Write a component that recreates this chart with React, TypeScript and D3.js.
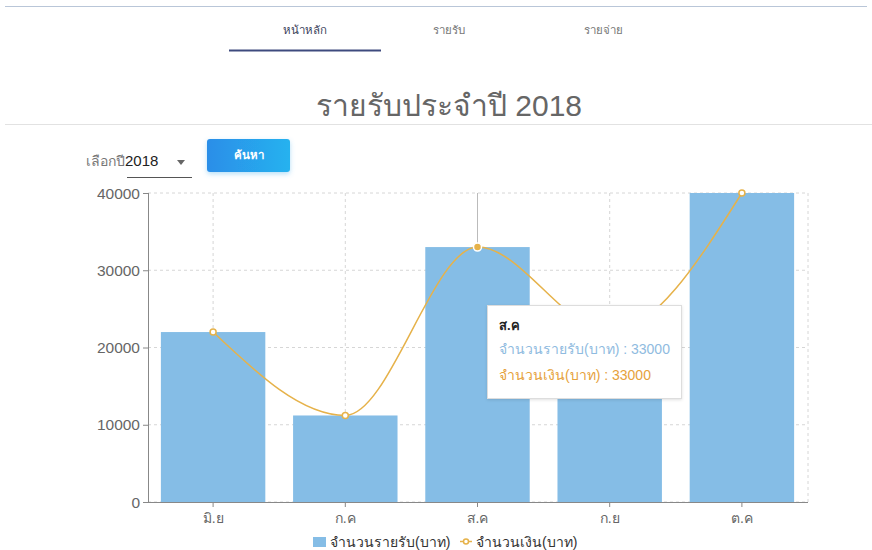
import React from "react";
import * as d3 from "d3";

const months = ["มิ.ย", "ก.ค", "ส.ค", "ก.ย", "ต.ค"];
const incomeValues = [22000, 11200, 33000, 22000, 40000];
const amountValues = [22000, 11200, 33000, 22000, 40000];
const yTicks = [0, 10000, 20000, 30000, 40000];
const navTabs = ["หน้าหลัก", "รายรับ", "รายจ่าย"];
const seriesNames = ["จำนวนรายรับ(บาท)", "จำนวนเงิน(บาท)"];
const hoverIndex = 2;

const W = 872;
const H = 550;
const FONT = "'Liberation Sans', Arial, 'DejaVu Sans', sans-serif";
const BAR = "#85bde6";
const LINE = "#e6b24a";

export default function App() {
  const x = d3
    .scaleBand<string>()
    .domain(months)
    .range([147, 808])
    .paddingInner(0.21)
    .paddingOuter(0.105);
  const y = d3.scaleLinear().domain([0, 40000]).range([502, 193]);
  const cx = (m: string) => (x(m) as number) + x.bandwidth() / 2;
  const line = d3
    .line<number>()
    .x((_, i) => cx(months[i]))
    .y((d) => y(d))
    .curve(d3.curveMonotoneX);
  const tabX = [305, 449, 603];
  const hx = cx(months[hoverIndex]);
  const hy = y(amountValues[hoverIndex]);

  return (
    <div style={{ position: "absolute", left: 0, top: 0, width: W, height: H, background: "#fff" }}>
      <svg width={W} height={H} style={{ display: "block", fontFamily: FONT }}>
        <defs>
          <linearGradient id="btn" x1="0" y1="0" x2="1" y2="0">
            <stop offset="0%" stopColor="#2a8ee8" />
            <stop offset="100%" stopColor="#27b2ef" />
          </linearGradient>
          <filter id="sh" x="-20%" y="-30%" width="140%" height="170%">
            <feDropShadow dx="0" dy="2" stdDeviation="2.5" floodColor="#5ab8f0" floodOpacity="0.45" />
          </filter>
          <filter id="tsh" x="-10%" y="-10%" width="120%" height="130%">
            <feDropShadow dx="0" dy="1" stdDeviation="1.5" floodColor="#000" floodOpacity="0.12" />
          </filter>
        </defs>
        {/* top bar line */}
        <line x1={5} x2={867} y1={6.5} y2={6.5} stroke="#b9c6d8" strokeWidth={1} />
        {/* nav */}
        {navTabs.map((t, i) => (
          <text key={t} x={tabX[i]} y={34} textAnchor="middle" fontSize={11.5} fill={i === 0 ? "#3c3f5c" : "#777"}>
            {t}
          </text>
        ))}
        <rect x={229} y={49.5} width={152} height={2} fill="#3e4a7e" />
        {/* title */}
        <text x={449} y={116} textAnchor="middle" fontSize={30} fill="#666">
          รายรับประจำปี 2018
        </text>
        <line x1={5} x2={872} y1={124.5} y2={124.5} stroke="#e2e2e2" />
        {/* select */}
        <text x={86} y={166} fontSize={14} fill="#777">
          เลือกปี<tspan fill="#222" fontSize={15}>2018</tspan>
        </text>
        <path d="M177,160 L185,160 L181,165 Z" fill="#666" />
        <line x1={127} x2={192} y1={177.5} y2={177.5} stroke="#555" />
        {/* button */}
        <rect x={207} y={139} width={83} height={33} rx={3} fill="url(#btn)" filter="url(#sh)" />
        <text x={248.5} y={159} textAnchor="middle" fontSize={11.5} fill="#fff" fontWeight="bold">
          ค้นหา
        </text>

        {/* grid */}
        {yTicks.map((t) => (
          <line key={"g" + t} x1={148} x2={808} y1={y(t)} y2={y(t)} stroke="#d6d6d6" strokeDasharray="3,3" />
        ))}
        {months.map((m) => (
          <line key={"v" + m} x1={cx(m)} x2={cx(m)} y1={193} y2={502} stroke="#d6d6d6" strokeDasharray="3,3" />
        ))}
        <line x1={808} x2={808} y1={193} y2={502} stroke="#d6d6d6" strokeDasharray="3,3" />

        {/* axis pointer */}
        <line x1={hx} x2={hx} y1={193} y2={hy} stroke="#bbb" strokeWidth={1} />

        {/* bars */}
        {months.map((m, i) => (
          <rect key={"b" + m} x={x(m)} y={y(incomeValues[i])} width={x.bandwidth()} height={502 - y(incomeValues[i])} fill={BAR} />
        ))}

        {/* line */}
        <path d={line(amountValues) || ""} fill="none" stroke={LINE} strokeWidth={1.5} />
        {amountValues.map((v, i) =>
          i === hoverIndex ? (
            <circle key={"p" + i} cx={cx(months[i])} cy={y(v)} r={4} fill={LINE} stroke="#fff" strokeWidth={1.5} />
          ) : (
            <circle key={"p" + i} cx={cx(months[i])} cy={y(v)} r={3} fill="#fff" stroke={LINE} strokeWidth={1.5} />
          )
        )}

        {/* axes */}
        <line x1={148.5} x2={148.5} y1={193} y2={502} stroke="#888" />
        {yTicks.map((t) => (
          <g key={"yt" + t}>
            <line x1={143} x2={148} y1={y(t) + 0.5} y2={y(t) + 0.5} stroke="#888" />
            <text x={140} y={y(t) + 5.5} textAnchor="end" fontSize={15.5} fill="#666">
              {t}
            </text>
          </g>
        ))}
        <line x1={143} x2={808} y1={502.5} y2={502.5} stroke="#888" />
        {months.map((m) => (
          <g key={"xt" + m}>
            <line x1={cx(m)} x2={cx(m)} y1={502} y2={507} stroke="#888" />
            <text x={cx(m)} y={523} textAnchor="middle" fontSize={14} fill="#666">
              {m}
            </text>
          </g>
        ))}

        {/* legend */}
        <rect x={313} y={537} width={13} height={10} fill={BAR} />
        <text x={330} y={546.5} fontSize={14} fill="#333">
          {seriesNames[0]}
        </text>
        <line x1={460} x2={472} y1={541.5} y2={541.5} stroke={LINE} strokeWidth={1.5} />
        <circle cx={466} cy={541.5} r={2.5} fill="#fff" stroke={LINE} strokeWidth={1.5} />
        <text x={476} y={546.5} fontSize={14} fill="#333">
          {seriesNames[1]}
        </text>

        {/* tooltip */}
        <rect x={487.5} y={305.5} width={194} height={93} fill="#fff" stroke="#ddd" filter="url(#tsh)" />
        <text x={499} y={330} fontSize={13} fontWeight="bold" fill="#222">
          {months[hoverIndex]}
        </text>
        <text x={499} y={354} fontSize={14} fill="#8fbbe0">
          {seriesNames[0]} : {incomeValues[hoverIndex]}
        </text>
        <text x={499} y={380} fontSize={14} fill="#e6a23c">
          {seriesNames[1]} : {amountValues[hoverIndex]}
        </text>
      </svg>
    </div>
  );
}
